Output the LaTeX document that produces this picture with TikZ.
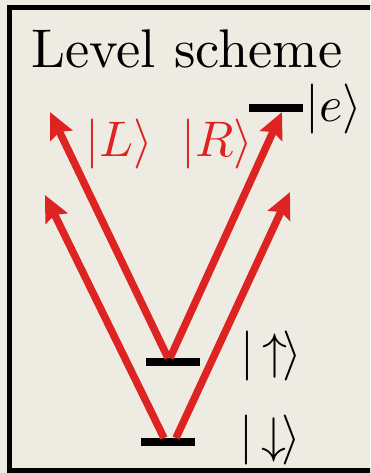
\documentclass[tikz,border=0pt]{standalone}
\usetikzlibrary{arrows.meta}
\definecolor{bg}{RGB}{238,235,227}
\definecolor{laser}{RGB}{222,35,35}
\begin{document}
\begin{tikzpicture}[x=1pt,y=-1pt,
  bar/.style={fill=black, inner sep=0pt, minimum width=54pt, minimum height=8pt},
  beam/.style={draw=laser, line width=7.5pt, -{Stealth[length=26pt,width=24pt,inset=4pt]}},
  ket/.style={scale=5, inner sep=0pt},
]
\fill[bg] (0,0) rectangle (370,473);
\useasboundingbox (0,0) rectangle (370,473);
\begin{scope}
\clip (0,0) rectangle (370,473);
\draw[line width=5pt] (9.5,7.5) rectangle (390,470);
\end{scope}
\node[anchor=base west, scale=5.45, inner sep=0pt] (title) at (30,68) {Level scheme};
% levels
\node[bar] (e) at (276,108.5) {};
\node[bar] (up) at (172.5,362) {};
\node[bar] (down) at (168,442) {};
% ket labels
\node[ket] (ke) at (334,109) {$|e\rangle$};
\node[ket] (ku) at (271,356) {$|\mkern-2mu\uparrow\mkern-2mu\rangle$};
\node[ket] (kd) at (270,440) {$|\mkern-2mu\downarrow\mkern-2mu\rangle$};
\node[ket, text=laser] (kL) at (119,144) {$|L\rangle$};
\node[ket, text=laser] (kR) at (217,144) {$|R\rangle$};
% beam endpoints
\coordinate (d1) at (164,438);
\coordinate (d2) at (176,438);
\coordinate (u1) at (168,358);
\coordinate (u2) at (170,358);
\coordinate (t1) at (45,195);
\coordinate (t2) at (290,192);
\coordinate (t3) at (50,112);
\coordinate (t4) at (282,112);
\draw[beam] (d1) -- (t1);
\draw[beam] (d2) -- (t2);
\draw[beam] (u1) -- (t3);
\draw[beam] (u2) -- (t4);
\end{tikzpicture}
\end{document}
